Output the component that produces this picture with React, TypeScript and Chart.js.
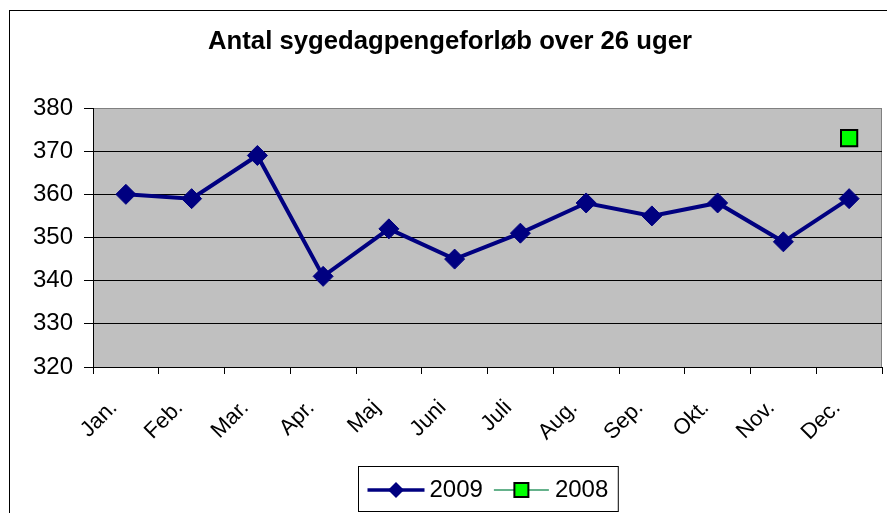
import React, { useEffect, useRef } from 'react';
import { Chart, registerables } from 'chart.js';
Chart.register(...registerables);

const chartTitle = 'Antal sygedagpengeforløb over 26 uger';
const categories = ['Jan.', 'Feb.', 'Mar.', 'Apr.', 'Maj', 'Juni', 'Juli', 'Aug.', 'Sep.', 'Okt.', 'Nov.', 'Dec.'];
const series2009 = [360, 359, 369, 341, 352, 345, 351, 358, 355, 358, 349, 359];
const series2008 = [null, null, null, null, null, null, null, null, null, null, null, 373];
const seriesLabels = ['2009', '2008'];
const yTicks = [320, 330, 340, 350, 360, 370, 380];

const FAMILY = '"Liberation Sans", Arial, sans-serif';
const NAVY = '#000080';
const GREEN = '#00FF00';
const GREEN_LINE = '#339966';

const plotBg = {
  id: 'plotBg',
  beforeDraw(chart: any) {
    const { ctx, chartArea: a } = chart;
    ctx.save();
    ctx.fillStyle = '#C0C0C0';
    ctx.fillRect(a.left, a.top, a.right - a.left, a.bottom - a.top);
    ctx.strokeStyle = '#808080';
    ctx.lineWidth = 1;
    ctx.beginPath();
    ctx.moveTo(a.right - 0.5, a.top);
    ctx.lineTo(a.right - 0.5, a.bottom);
    ctx.stroke();
    ctx.restore();
  },
};

const titlePlugin = {
  id: 'customTitle',
  afterDraw(chart: any) {
    const { ctx } = chart;
    ctx.save();
    ctx.font = `bold 25.7px ${FAMILY}`;
    ctx.fillStyle = '#000';
    ctx.textAlign = 'center';
    ctx.textBaseline = 'middle';
    ctx.fillText(chartTitle, (chart.width + 13) / 2, 42);
    ctx.restore();
  },
};

const legendPlugin = {
  id: 'customLegend',
  afterDraw(chart: any) {
    const { ctx, chartArea: a } = chart;
    ctx.save();
    ctx.font = `24px ${FAMILY}`;
    const w1 = ctx.measureText(seriesLabels[0]).width;
    const w2 = ctx.measureText(seriesLabels[1]).width;
    const padL = 9, line1 = 57, gap1 = 5, gap2 = 11, line2 = 55, gap3 = 6, padR = 10;
    const total = padL + line1 + gap1 + w1 + gap2 + line2 + gap3 + w2 + padR;
    const cx = (a.left + a.right) / 2;
    const left = Math.round(cx - total / 2) + 0.5;
    const top = chart.height - 47 + 0.5;
    const h = 45;
    ctx.fillStyle = '#fff';
    ctx.fillRect(left, top, total, h);
    ctx.strokeStyle = '#000';
    ctx.lineWidth = 1;
    ctx.strokeRect(left, top, total, h);
    const y = top + 23.5;
    let x = left + padL;
    // 2009
    ctx.strokeStyle = NAVY;
    ctx.lineWidth = 3.5;
    ctx.beginPath();
    ctx.moveTo(x, y);
    ctx.lineTo(x + line1, y);
    ctx.stroke();
    ctx.fillStyle = NAVY;
    const dx = x + line1 / 2;
    ctx.beginPath();
    ctx.moveTo(dx, y - 8);
    ctx.lineTo(dx + 8, y);
    ctx.lineTo(dx, y + 8);
    ctx.lineTo(dx - 8, y);
    ctx.closePath();
    ctx.fill();
    x += line1 + gap1;
    ctx.fillStyle = '#000';
    ctx.textBaseline = 'middle';
    ctx.textAlign = 'left';
    ctx.fillText(seriesLabels[0], x, y);
    x += w1 + gap2;
    // 2008
    ctx.strokeStyle = GREEN_LINE;
    ctx.lineWidth = 1.5;
    ctx.beginPath();
    ctx.moveTo(x, y);
    ctx.lineTo(x + line2, y);
    ctx.stroke();
    const sx = x + line2 / 2;
    ctx.fillStyle = GREEN;
    ctx.fillRect(sx - 7, y - 7, 14, 14);
    ctx.strokeStyle = '#000';
    ctx.lineWidth = 2;
    ctx.strokeRect(sx - 7, y - 7, 14, 14);
    x += line2 + gap3;
    ctx.fillStyle = '#000';
    ctx.fillText(seriesLabels[1], x, y);
    ctx.restore();
  },
};

export default function App() {
  const ref = useRef<HTMLCanvasElement | null>(null);
  useEffect(() => {
    if (!ref.current) return;
    const chart = new Chart(ref.current, {
      type: 'line',
      data: {
        labels: categories,
        datasets: [
          {
            label: seriesLabels[0],
            data: series2009,
            borderColor: NAVY,
            backgroundColor: NAVY,
            borderWidth: 4,
            pointStyle: 'rectRot',
            pointRadius: 10,
            pointBackgroundColor: NAVY,
            pointBorderColor: NAVY,
            pointBorderWidth: 1,
            tension: 0,
          },
          {
            label: seriesLabels[1],
            data: series2008,
            borderColor: GREEN_LINE,
            backgroundColor: GREEN,
            borderWidth: 1,
            pointStyle: 'rect',
            pointRadius: 11.5,
            pointBackgroundColor: GREEN,
            pointBorderColor: '#000',
            pointBorderWidth: 2,
          },
        ],
      },
      options: {
        animation: false,
        responsive: false,
        maintainAspectRatio: false,
        layout: { autoPadding: false, padding: { top: 108, right: 5, bottom: 0, left: 0 } },
        plugins: {
          legend: { display: false },
          title: { display: false },
          tooltip: { enabled: false },
        },
        scales: {
          x: {
            type: 'category',
            offset: true,
            grid: {
              offset: true,
              drawOnChartArea: false,
              drawTicks: true,
              tickLength: 7,
              color: '#000',
            },
            border: { display: true, color: '#000', width: 1 },
            ticks: {
              autoSkip: false,
              maxRotation: 45,
              minRotation: 45,
              color: '#000',
              padding: 21,
              labelOffset: -12,
              font: { family: FAMILY, size: 22 },
            },
            afterFit: (s: any) => {
              s.height = 146;
              s.paddingRight = 0;
              s.paddingLeft = 0;
            },
          },
          y: {
            min: 320,
            max: 380,
            afterBuildTicks: (s: any) => {
              s.ticks = yTicks.map((v) => ({ value: v }));
            },
            grid: {
              color: (c: any) => (c.tick && c.tick.value === 380 ? '#808080' : '#000'),
              tickColor: '#000',
              tickLength: 9,
              drawTicks: true,
            },
            border: { display: true, color: '#000', width: 1 },
            ticks: {
              color: '#000',
              padding: 11,
              font: { family: FAMILY, size: 24 },
            },
            afterFit: (s: any) => {
              s.width = 93;
            },
          },
        },
      },
      plugins: [plotBg, titlePlugin, legendPlugin],
    } as any);
    return () => chart.destroy();
  }, []);
  return (
    <div style={{ position: 'fixed', left: 0, top: 0, width: 887, height: 513, overflow: 'hidden', background: '#fff' }}>
      <div style={{ position: 'absolute', left: 9, top: 10, width: 1200, height: 1200, borderLeft: '1px solid #000', borderTop: '1px solid #000' }} />
      <canvas ref={ref} width={887} height={513} style={{ position: 'absolute', left: 0, top: 0, width: 887, height: 513 }} />
    </div>
  );
}
